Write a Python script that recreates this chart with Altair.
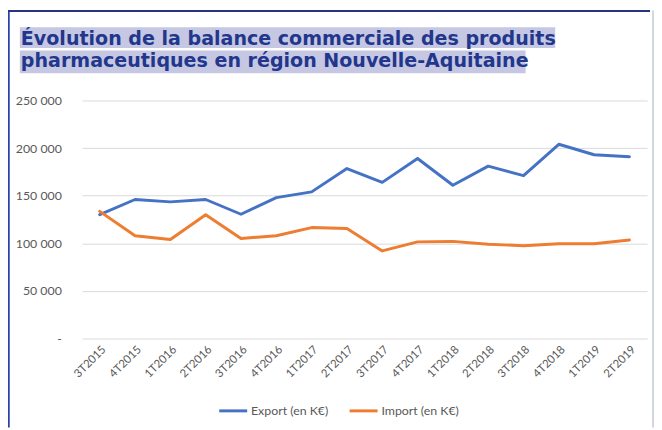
import altair as alt
import pandas as pd

# ---- data ----
quarters = ["3T2015", "4T2015", "1T2016", "2T2016", "3T2016", "4T2016",
            "1T2017", "2T2017", "3T2017", "4T2017", "1T2018", "2T2018",
            "3T2018", "4T2018", "1T2019", "2T2019"]
export_vals = [130000, 146000, 143500, 146000, 130500, 148000, 154000, 178500,
               164000, 189000, 161000, 181000, 171000, 204000, 193000, 191000]
import_vals = [133500, 108000, 104000, 130000, 105000, 108000, 116500, 115500,
               92000, 101500, 102000, 99000, 97500, 99500, 99500, 103500]
series_names = ["Export (en K€)", "Import (en K€)"]
series_colors = ["#4472c4", "#ed7d31"]
y_ticks = [0, 50000, 100000, 150000, 200000, 250000]
title_lines = ["Évolution de la balance commerciale des produits",
               "pharmaceutiques en région Nouvelle-Aquitaine"]

rows = []
for q, e, i in zip(quarters, export_vals, import_vals):
    rows.append({"quarter": q, "series": series_names[0], "value": e})
    rows.append({"quarter": q, "series": series_names[1], "value": i})
df = pd.DataFrame(rows)

W, H = 572, 241
one = pd.DataFrame({"a": [0]})

lines = alt.Chart(df).mark_line(strokeWidth=3, strokeCap="round", strokeJoin="round").encode(
    x=alt.X("quarter:N", sort=quarters, title=None,
            scale=alt.Scale(padding=0.5),
            axis=alt.Axis(labelAngle=-45, domain=False, ticks=False, grid=False,
                          labelPadding=5, labelFontSize=11.5, labelColor="#595959",
                          labelFont="Lato")),
    y=alt.Y("value:Q", title=None,
            scale=alt.Scale(domain=[0, 250000], nice=False, zero=True),
            axis=alt.Axis(values=y_ticks, grid=True, gridColor="#d9d9d9", gridWidth=1,
                          domain=False, ticks=False, labelPadding=21,
                          labelFontSize=12.5, labelColor="#595959", labelFont="Lato",
                          labelExpr="datum.value == 0 ? '-    ' : format(datum.value/1000, 'd') + ' 000'")),
    color=alt.Color("series:N", scale=alt.Scale(domain=series_names, range=series_colors),
                    legend=alt.Legend(orient="none", legendX=137, legendY=298,
                                      direction="horizontal", title=None,
                                      symbolType="stroke", symbolStrokeWidth=3,
                                      symbolSize=800, labelFontSize=12.5,
                                      labelColor="#595959", labelFont="Lato",
                                      columnPadding=14, labelOffset=2)),
)

# decorative title highlight + text
hl1 = alt.Chart(one).mark_rect(color="#c5c7e3").encode(
    x=alt.value(-63), x2=alt.value(479), y=alt.value(-74), y2=alt.value(-53))
hl2 = alt.Chart(one).mark_rect(color="#c5c7e3").encode(
    x=alt.value(-63), x2=alt.value(449), y=alt.value(-50.5), y2=alt.value(-27.5))
t1 = alt.Chart(one).mark_text(text=title_lines[0], align="left", baseline="alphabetic",
                              font="DejaVu Sans", fontWeight="bold", fontSize=19.3,
                              color="#22378c").encode(x=alt.value(-62), y=alt.value(-56))
t2 = alt.Chart(one).mark_text(text=title_lines[1], align="left", baseline="alphabetic",
                              font="DejaVu Sans", fontWeight="bold", fontSize=19.3,
                              color="#22378c").encode(x=alt.value(-62), y=alt.value(-34))

# frame border
left_b = alt.Chart(one).mark_rule(color="#2b41a6", strokeWidth=2.5).encode(
    x=alt.value(-74.5), y=alt.value(-91), y2=alt.value(H + 90))
top_b = alt.Chart(one).mark_rule(color="#25357f", strokeWidth=2).encode(
    x=alt.value(-75), x2=alt.value(575), y=alt.value(-90.5))
right_b = alt.Chart(one).mark_rule(color="#c3c8d4", strokeWidth=1.5).encode(
    x=alt.value(578), y=alt.value(-91), y2=alt.value(H + 90))

chart = alt.layer(hl1, hl2, t1, t2, lines, left_b, top_b, right_b).properties(
    width=W, height=H,
    autosize=alt.AutoSizeParams(type="none"),
    padding={"left": 75, "top": 91, "right": 7, "bottom": 90},
    background="white",
).configure_view(stroke=None)

chart.save("out.html", embed_options={"renderer": "svg", "actions": False})
